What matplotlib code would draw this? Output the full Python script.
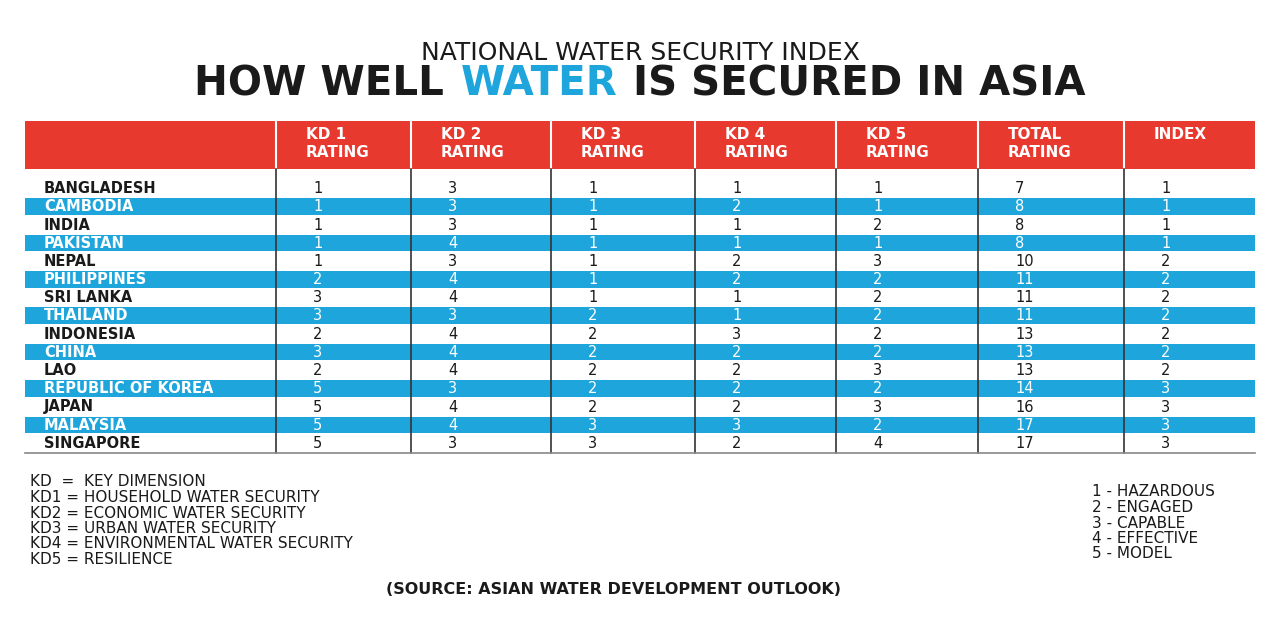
import matplotlib
matplotlib.use("Agg")
import matplotlib.pyplot as plt
from matplotlib.patches import Rectangle

countries = ["BANGLADESH","CAMBODIA","INDIA","PAKISTAN","NEPAL","PHILIPPINES","SRI LANKA",
             "THAILAND","INDONESIA","CHINA","LAO","REPUBLIC OF KOREA","JAPAN","MALAYSIA","SINGAPORE"]
kd1 = [1,1,1,1,1,2,3,3,2,3,2,5,5,5,5]
kd2 = [3,3,3,4,3,4,4,3,4,4,4,3,4,4,3]
kd3 = [1,1,1,1,1,1,1,2,2,2,2,2,2,3,3]
kd4 = [1,2,1,1,2,2,1,1,3,2,2,2,2,3,2]
kd5 = [1,1,2,1,3,2,2,2,2,2,3,2,3,2,4]
total = [7,8,8,8,10,11,11,11,13,13,13,14,16,17,17]
index = [1,1,1,1,2,2,2,2,2,2,2,3,3,3,3]
headers = ["KD 1\nRATING","KD 2\nRATING","KD 3\nRATING","KD 4\nRATING","KD 5\nRATING","TOTAL\nRATING","INDEX"]
kd_notes = ["KD  =  KEY DIMENSION","KD1 = HOUSEHOLD WATER SECURITY","KD2 = ECONOMIC WATER SECURITY",
            "KD3 = URBAN WATER SECURITY","KD4 = ENVIRONMENTAL WATER SECURITY","KD5 = RESILIENCE"]
scale = ["1 - HAZARDOUS","2 - ENGAGED","3 - CAPABLE","4 - EFFECTIVE","5 - MODEL"]

RED = "#e8392f"; BLUE = "#1ea5dc"; DARK = "#1a1a1a"
plt.rcParams['font.family'] = ['DejaVu Sans']
fig = plt.figure(figsize=(12.8, 6.4), dpi=100)
ax = fig.add_axes([0, 0, 1, 1])
ax.set_xlim(0, 1280); ax.set_ylim(640, 0); ax.axis("off")

ax.text(640, 53, "NATIONAL WATER SECURITY INDEX", ha="center", va="center", fontsize=18, color=DARK)
fig.canvas.draw()
r = fig.canvas.get_renderer()
fs = 29
parts = [("HOW WELL", DARK), ("WATER", BLUE), ("IS SECURED IN ASIA", DARK)]
probe = [fig.text(0, 0, s, fontsize=fs, fontweight="bold", alpha=0) for s, _ in parts]
widths = [p.get_window_extent(r).width for p in probe]
space = 16
total_w = sum(widths) + space * 2
x = 640 - total_w / 2
for (s, c), w in zip(parts, widths):
    ax.text(x, 84, s, ha="left", va="center", fontsize=fs, fontweight="bold", color=c)
    x += w + space

cols = [25, 276, 411, 551, 695, 836, 978, 1124, 1255]
ax.add_patch(Rectangle((25, 121), 1230, 48, color=RED, lw=0))
for i, h in enumerate(headers):
    ax.text(cols[i + 1] + 30, 127, h, ha="left", va="top", fontsize=11, fontweight="bold",
            color="white", linespacing=1.25)
for xx in cols[1:-1]:
    ax.plot([xx, xx], [121, 169], color="white", lw=1.5)

row_h = 18.2; y_start = 180
data = [kd1, kd2, kd3, kd4, kd5, total, index]
for i, c in enumerate(countries):
    yt = y_start + i * row_h
    striped = i % 2 == 1
    if striped:
        ax.add_patch(Rectangle((25, yt), 1230, row_h - 1.5, color=BLUE, lw=0))
    tc = "white" if striped else DARK
    yc = yt + row_h / 2 - 0.5
    ax.text(44, yc, c, ha="left", va="center", fontsize=10.5, fontweight="bold", color=tc)
    for j, col in enumerate(data):
        ax.text(cols[j + 1] + 37, yc, str(col[i]), ha="left", va="center", fontsize=10.5, color=tc)
y_end = y_start + len(countries) * row_h
for xx in cols[1:-1]:
    ax.plot([xx, xx], [169, y_end], color="#333333", lw=1.2)
ax.plot([25, 1255], [y_end, y_end], color="#888888", lw=1.2)

for i, s in enumerate(kd_notes):
    ax.text(30, 482 + i * 15.5, s, ha="left", va="center", fontsize=11, color=DARK)
for i, s in enumerate(scale):
    ax.text(1092, 492 + i * 15.5, s, ha="left", va="center", fontsize=11, color=DARK)
ax.text(613, 589, "(SOURCE: ASIAN WATER DEVELOPMENT OUTLOOK)", ha="center", va="center",
        fontsize=11.5, fontweight="bold", color=DARK)

fig.savefig("out.png", dpi=100)
